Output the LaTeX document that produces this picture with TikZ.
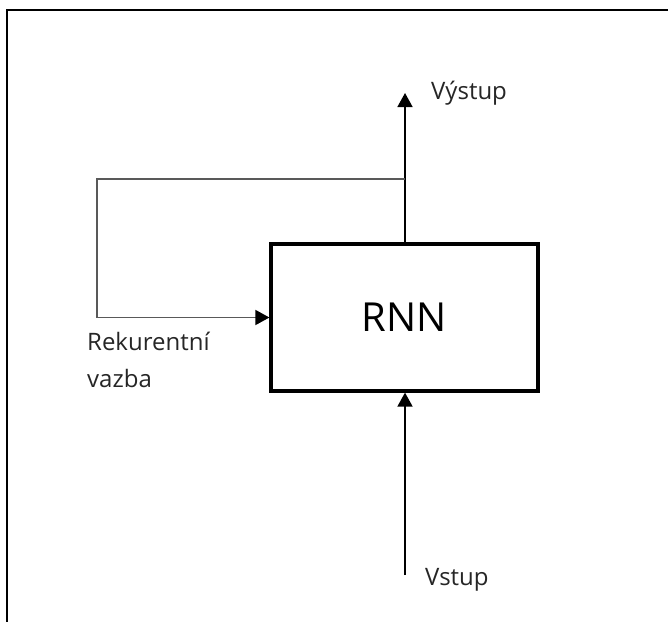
\documentclass[tikz,border=0pt]{standalone}
\usepackage{fontspec}
\setmainfont{Open Sans}
\usetikzlibrary{arrows.meta}
\begin{document}
\begin{tikzpicture}[x=1pt,y=-1pt,
  frameline/.style={line width=2.4pt,black},
  conn/.style={line width=1.6pt,black},
  fbline/.style={line width=1.6pt,black!65},
  tip/.style={-{Triangle[length=14pt,width=15pt,color=black]}},
  lbl/.style={font=\fontsize{24}{37}\selectfont,text=black!85,inner sep=0pt},
  rnnbox/.style={draw,line width=3.2pt,rectangle,minimum width=267pt,minimum height=147pt,inner sep=0pt,font=\fontsize{40}{48}\selectfont}]
\useasboundingbox (0,0) rectangle (668,621);
\draw[frameline] (7,625) -- (7,10) -- (672,10);
\node[rnnbox] (rnn) at (404.5,317.5) {RNN};
\coordinate (outtop) at (405,93);
\coordinate (junc) at (405,179);
\coordinate (fbtl) at (97,179);
\coordinate (fbbl) at (97,317.5);
\coordinate (inbot) at (405,575);
\draw[conn,tip] (rnn.north -| junc) -- (outtop);
\draw[fbline,tip] (junc) -- (fbtl) -- (fbbl) -- (rnn.west);
\draw[conn,tip] (inbot) -- (rnn.south -| inbot);
\node[lbl,anchor=base west] (vystup) at (431,99) {Výstup};
\node[lbl,anchor=base west] (vstup) at (425,585) {Vstup};
\node[lbl,anchor=base west,align=left] (rek) at (87,387) {Rekurentní\\vazba};
\end{tikzpicture}
\end{document}
